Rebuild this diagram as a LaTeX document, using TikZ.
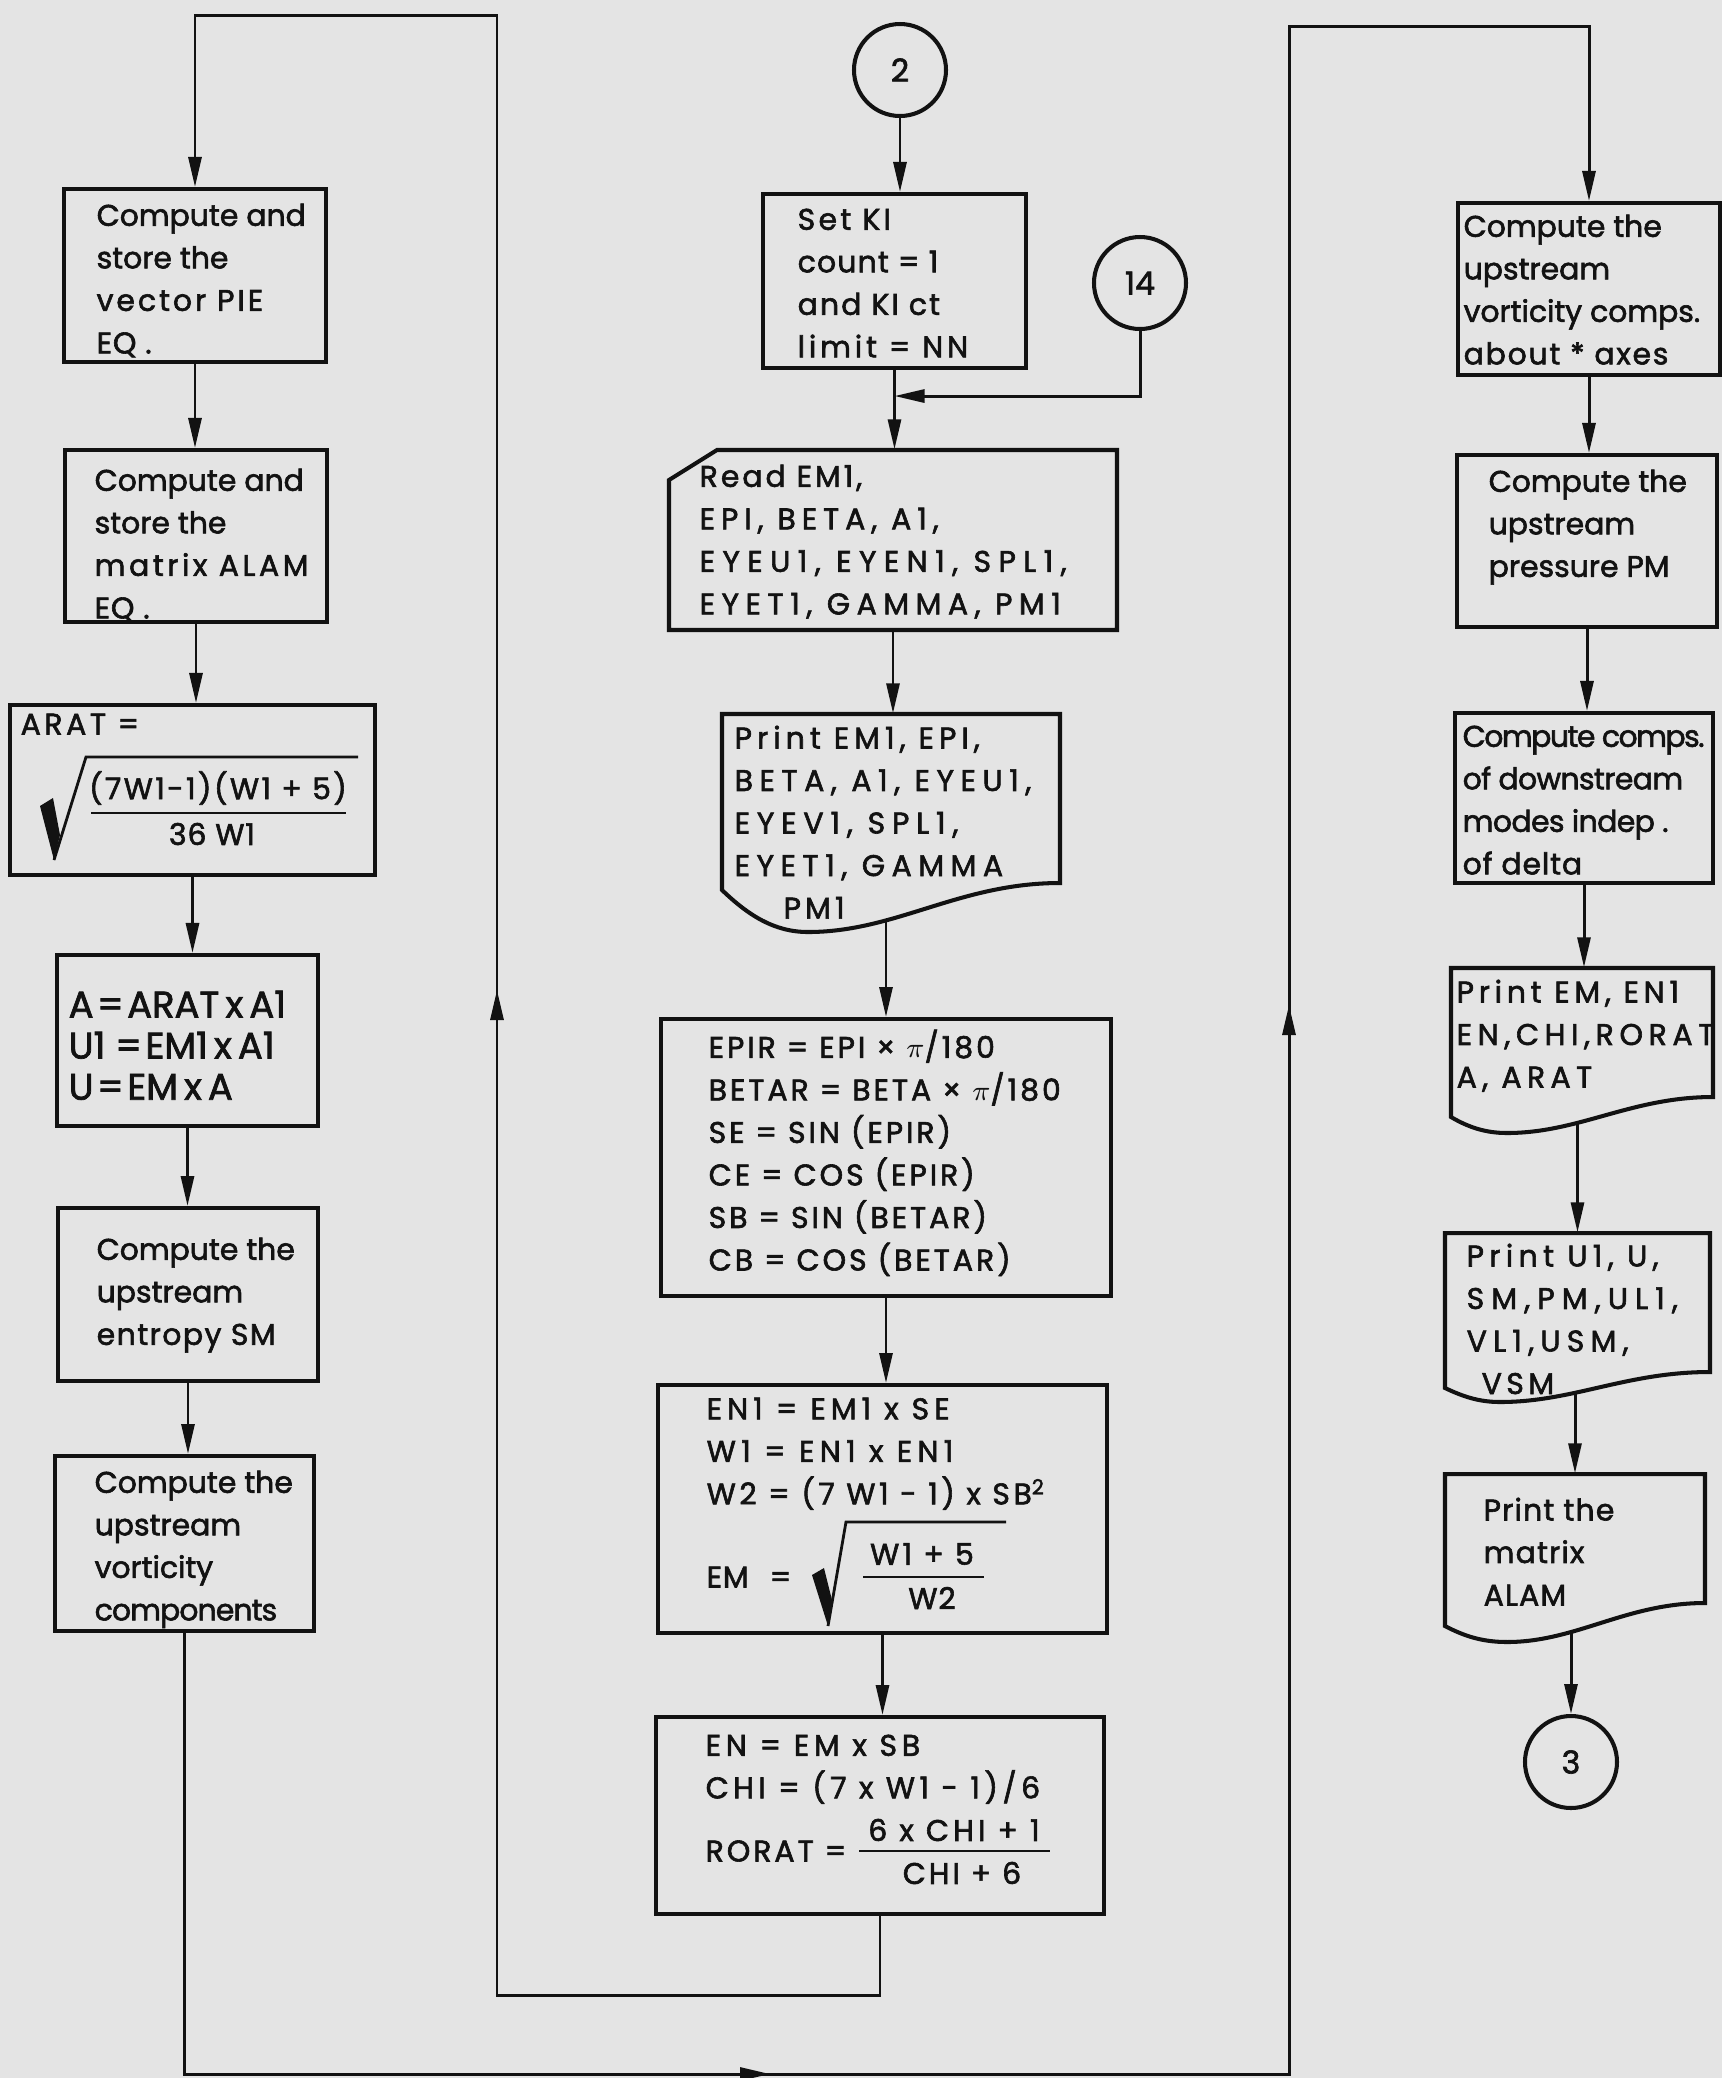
\documentclass[tikz,border=0pt]{standalone}
\usepackage{fontspec}
\setmainfont{Poppins}[Numbers=Monospaced, FakeBold=2]
\usetikzlibrary{arrows.meta,calc}
\definecolor{bgc}{RGB}{228,228,228}
\definecolor{ink}{RGB}{18,18,18}
\newcommand\lsp[1]{\addfontfeatures{LetterSpace=#1}}
\pgfdeclarelayer{back}
\pgfsetlayers{back,main}
\begin{document}
\begin{tikzpicture}[x=0.1mm,y=-0.1mm,
  box/.style={draw=ink, line width=1.15pt, fill=bgc, inner sep=0pt},
  shp/.style={draw=ink, line width=1.15pt, fill=bgc},
  ghost/.style={draw=none, inner sep=0pt},
  circ/.style={circle, draw=ink, line width=1.15pt, fill=bgc, minimum size=9.2mm, inner sep=0pt, text=ink, font=\fontsize{9}{11}\selectfont},
  txt/.style={anchor=north west, inner sep=0pt, align=left, text=ink, font=\fontsize{8.5}{12.1}\selectfont\addfontfeatures{LetterSpace=#1}},
  txt/.default=0,
  ctr/.style={inner sep=0pt, text=ink, font=\fontsize{8.5}{10}\selectfont\addfontfeatures{LetterSpace=#1}},
  ctr/.default=0,
  conn/.style={draw=ink, line width=0.85pt},
  arr/.style={conn, -{Triangle[length=3mm,width=1.3mm]}},
  rad/.style={draw=ink, line width=0.8pt}
]
\useasboundingbox (0,0) rectangle (1722,2078);

% ---------- left column ----------
\node[box, minimum width=26.2mm, minimum height=17.3mm] (b1) at (195,275.5) {};
\node[box, minimum width=26.2mm, minimum height=17.2mm] (b2) at (196,536) {};
\node[box, minimum width=36.5mm, minimum height=17.0mm] (b3) at (192.5,790) {};
\node[box, minimum width=26.1mm, minimum height=17.1mm] (b4) at (187.5,1040.5) {};
\node[box, minimum width=26.0mm, minimum height=17.3mm] (b5) at (188,1294.5) {};
\node[box, minimum width=25.9mm, minimum height=17.5mm] (b6) at (184.5,1543.5) {};

\node[txt] (tb1) at (96,203) {\lsp{0}Compute and\\\lsp{0}store the\\\lsp{10}vector PIE\\\lsp{3}EQ .};
\node[txt] (tb2) at (94,468) {\lsp{0}Compute and\\\lsp{0}store the\\\lsp{12}matrix ALAM\\\lsp{3}EQ .};
\node[txt=12] (tb3) at (20,713) {ARAT =};
\fill[ink] (40,806) -- (53,798) -- (60,835) -- (54,860) -- cycle;
\draw[rad] (54,860) -- (86,757) -- (358,757);
\node[ctr=8] (an) at (218,788) {(7W1-1)(W1 + 5)};
\draw[rad] (91,813) -- (346,813);
\node[ctr=3] (ad) at (212,834) {36 W1};
\node[txt, font=\fontsize{10.5}{11.7}\selectfont] (tb4) at (68,990) {A\kern1pt=\kern1ptARAT\,x\,A1\\U1 =\kern1ptEM1\,x\,A1\\U\kern1pt=\kern1ptEM\,x\,A};
\node[txt] (tb5) at (96,1237) {Compute the\\upstream\\\lsp{5}entropy SM};
\node[txt] (tb6) at (94,1470) {Compute the\\upstream\\vorticity\\\lsp{-3}components};

% ---------- center column ----------
\node[circ] (c2) at (900,70) {2};
\node[box, minimum width=26.3mm, minimum height=17.4mm] (setki) at (894.5,281) {};
\node[txt] (tsk) at (797,208) {\lsp{11}Set KI\\\lsp{4}count = 1\\\lsp{7}and KI ct\\\lsp{13}limit = NN};
\node[circ] (c14) at (1140,283) {14};

\node[ghost, minimum width=44.8mm, minimum height=18mm] (read) at (893,540) {};
\draw[shp] (717,450) -- (1117,450) -- (1117,630) -- (669,630) -- (669,480) -- cycle;
\node[txt] (trd) at (699,464) {\lsp{10}Read EM1,\\\lsp{20}EPI, BETA, A1,\\\lsp{25}EYEU1, EYEN1, SPL1,\\\lsp{22}EYET1, GAMMA, PM1};

\node[ghost, minimum width=33.8mm, minimum height=21.8mm] (p1) at (891,823) {};
\draw[shp] (722,714) -- (1060,714) -- (1060,883) .. controls (959,883) and (896,932) .. (808,932) .. controls (774,932) and (748,915) .. (722,890) -- cycle;
\node[txt] (tp1) at (734,725) {\lsp{17}Print EM1, EPI,\\\lsp{22}BETA, A1, EYEU1,\\\lsp{23}EYEV1, SPL1,\\\lsp{22}EYET1, GAMMA\\\hspace*{4.9mm}\lsp{14}PM1};

\node[box, minimum width=45.0mm, minimum height=27.7mm] (epir) at (886,1157.5) {};
\node[txt=10] (tep) at (708,1029) {EPIR = EPI × $\pi$/180\\BETAR = BETA × $\pi$/180\\SE = SIN (EPIR)\\CE = COS (EPIR)\\SB = SIN (BETAR)\\CB = COS (BETAR)};

\node[box, minimum width=44.9mm, minimum height=24.8mm] (en1) at (882.5,1509) {};
\node[txt] (ten1) at (706,1397) {\lsp{17}EN1 = EM1 x SE\\\lsp{18}W1 = EN1 x EN1\\\lsp{12}W2 = (7 W1 - 1) x SB\textsuperscript{2}};
\node[ctr=3, anchor=west] (emq) at (706,1577) {EM\hspace{6pt}=};
\fill[ink] (812,1575) -- (824,1568) -- (832,1600) -- (828,1626) -- cycle;
\draw[rad] (828,1626) -- (846,1522) -- (1006,1522);
\node[ctr=11] (emn) at (922,1554) {W1 + 5};
\draw[rad] (863,1577) -- (984,1577);
\node[ctr=3] (emd) at (932,1598) {W2};

\node[box, minimum width=44.8mm, minimum height=19.7mm] (en) at (880,1815.5) {};
\node[txt] (ten) at (705,1734) {\lsp{16}EN = EM x SB\\\lsp{15}CHI = (7 x W1 - 1)/6};
\node[ctr=10, anchor=west] (ror) at (705,1851) {RORAT =};
\node[ctr=14] (rn) at (954,1830) {6 x CHI + 1};
\draw[rad] (859,1851) -- (1050,1851);
\node[ctr=10] (rd) at (962,1873) {CHI + 6};

% ---------- right column ----------
\node[box, minimum width=26.2mm, minimum height=17.2mm] (r1) at (1589,289) {};
\node[txt] (tr1) at (1463,214) {Compute the\\upstream\\vorticity comps.\\\lsp{6}about * axes};
\node[box, minimum width=26.0mm, minimum height=17.2mm] (r2) at (1587,541) {};
\node[txt] (tr2) at (1488,469) {Compute the\\upstream\\pressure PM};
\node[box, minimum width=25.8mm, minimum height=17.0mm] (r3) at (1584,798) {};
\node[txt] (tr3) at (1462,725) {\lsp{-5}Compute comps.\\\lsp{-2}of downstream\\\lsp{-2}modes indep .\\\lsp{3}of delta};

\node[ghost, minimum width=26.2mm, minimum height=16.5mm] (r4) at (1582,1050.5) {};
\draw[shp] (1451,968) -- (1713,968) -- (1713,1097) .. controls (1631,1097) and (1579,1133) .. (1507,1133) .. controls (1485,1133) and (1468,1127) .. (1451,1117) -- cycle;
\node[txt] (tr4) at (1456,979) {\lsp{16}Print EM, EN1\\\lsp{19}EN,CHI,RORAT\\\lsp{18}A, ARAT};

\node[ghost, minimum width=26.5mm, minimum height=16.9mm] (r5) at (1577.5,1317.5) {};
\draw[shp] (1445,1233) -- (1710,1233) -- (1710,1372) .. controls (1626,1372) and (1573,1402) .. (1500,1402) .. controls (1478,1402) and (1462,1396) .. (1445,1388) -- cycle;
\node[txt] (tr5) at (1466,1243) {\lsp{18}Print U1, U,\\\lsp{24}SM,PM,UL1,\\\lsp{21}VL1,USM,\\\hspace*{1.5mm}\lsp{15}VSM};

\node[ghost, minimum width=26.0mm, minimum height=16.8mm] (r6) at (1575,1558) {};
\draw[shp] (1445,1474) -- (1705,1474) -- (1705,1603) .. controls (1626,1603) and (1576,1642) .. (1507,1642) .. controls (1482,1642) and (1464,1636) .. (1445,1626) -- cycle;
\node[txt=4] (tr6) at (1483,1497) {Print the\\matrix\\ALAM};

\node[circ] (c3) at (1571,1762) {3};

% ---------- connectors ----------
\begin{pgfonlayer}{back}
\fill[bgc] (0,0) rectangle (1722,2078);
% left column
\draw[arr] (b1.south) -- (b1.south |- b2.north);
\draw[arr] (b2.south) -- (b2.south |- b3.north);
\draw[arr] (b3.south) -- (b3.south |- b4.north);
\draw[arr] (b4.south) -- (b4.south |- b5.north);
\draw[arr] (b5.south) -- (b5.south |- b6.north);
% center column
\draw[arr] (c2.south) -- (c2.south |- setki.north);
\draw[arr] (setki.south) -- (setki.south |- read.north);
\coordinate (j14) at ($(setki.south)+(0,26)$);
\draw[arr] (c14.south) |- (j14);
\draw[arr] (read.south) -- (read.south |- p1.north);
\draw[arr] (p1.center -| epir.north) -- (epir.north);
\draw[arr] (epir.south) -- (epir.south |- en1.north);
\draw[arr] (en1.south) -- (en1.south |- en.north);
% loop back to left column
\coordinate (lb) at (497,1995);
\coordinate (lt) at (497,15);
\coordinate (lm) at (497,990);
\draw[arr] (en.south) |- (lb) -- (lt) -| (b1.north);
\draw[arr] (lb) -- (lm);
% loop to right column
\coordinate (rb) at (1289,2074);
\coordinate (rt) at (1289,26);
\coordinate (rm) at (1289,1005);
\coordinate (bm) at (770,2074);
\draw[arr] (b6.south) |- (rb) -- (rt) -| (r1.north);
\draw[arr] (b6.south |- rb) -- (bm);
\draw[arr] (rb) -- (rm);
% right column
\draw[arr] (r1.south) -- (r1.south |- r2.north);
\draw[arr] (r2.south) -- (r2.south |- r3.north);
\draw[arr] (r3.south) -- (r3.south |- r4.north);
\draw[arr] (r4.center -| r5.north) -- (r5.north);
\draw[arr] (r5.center -| r6.north) -- (r6.north);
\draw[arr] (r6.center -| c3.north) -- (c3.north);
\end{pgfonlayer}
\end{tikzpicture}
\end{document}
